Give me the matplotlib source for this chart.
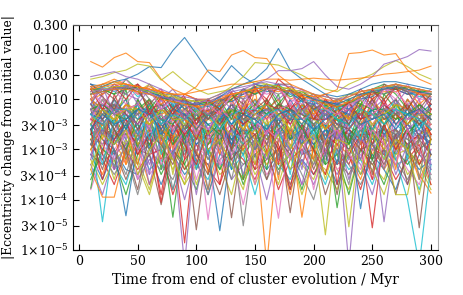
import numpy as np
import matplotlib
matplotlib.use("Agg")
import matplotlib.pyplot as plt
from matplotlib.ticker import FixedLocator, FixedFormatter, MultipleLocator, NullLocator

# time samples (Myr after end of cluster evolution)
time_myr = [10, 20, 30, 40, 50, 60, 70, 80, 90, 100, 110, 120, 130, 140, 150,
            160, 170, 180, 190, 200, 210, 220, 230, 240, 250, 260, 270, 280, 290, 300]

# log10 |delta e| (estimated), grouped by level
log_de_upper = [
    [-1.8, -1.7, -1.6, -1.7, -1.9, -1.8, -2.1, -1.9, -2.2, -2.1, -2.3, -2.0, -1.9, -2.2, -1.7, -1.8, -1.7, -2.0, -1.9, -2.3, -2.0, -2.2, -2.4, -1.9, -1.8, -2.0, -1.7, -1.8, -2.1, -1.9],
    [-2.0, -1.8, -1.9, -1.6, -1.8, -2.2, -1.9, -1.9, -2.0, -2.3, -2.1, -2.0, -2.4, -1.8, -1.9, -1.7, -2.1, -1.8, -2.0, -1.9, -2.1, -2.3, -2.0, -2.1, -1.8, -1.7, -1.9, -2.2, -1.8, -1.9],
    [-1.7, -1.9, -1.7, -1.8, -1.7, -1.9, -1.8, -2.2, -1.9, -2.0, -2.0, -2.3, -1.9, -1.9, -1.8, -2.0, -1.6, -1.8, -2.2, -2.0, -1.9, -2.1, -2.1, -1.8, -2.0, -1.8, -1.8, -1.9, -1.8, -2.2],
    [-2.2, -1.9, -1.7, -1.9, -2.0, -1.7, -2.0, -1.8, -2.1, -2.1, -2.0, -2.1, -1.8, -2.0, -1.9, -1.7, -1.8, -1.9, -1.8, -2.1, -2.3, -2.0, -2.0, -2.2, -1.8, -1.9, -1.7, -1.8, -2.0, -1.8],
    [-1.9, -1.8, -2.0, -1.7, -1.8, -1.8, -1.9, -2.0, -2.4, -2.0, -2.1, -2.0, -2.0, -1.8, -2.1, -1.8, -1.7, -1.7, -2.0, -1.9, -2.2, -2.1, -1.9, -1.9, -2.1, -1.7, -1.8, -1.8, -1.9, -1.9],
    [-1.8, -2.1, -1.8, -1.6, -1.9, -1.9, -1.8, -2.1, -2.0, -2.2, -2.2, -1.9, -2.1, -1.8, -1.8, -1.9, -1.8, -2.1, -1.8, -2.0, -2.0, -2.1, -2.2, -1.9, -1.9, -1.8, -2.0, -1.7, -2.0, -2.0],
    [-2.1, -1.7, -1.8, -1.9, -1.7, -2.0, -2.2, -1.9, -2.1, -2.0, -2.4, -2.1, -1.9, -2.0, -1.7, -1.8, -1.9, -1.8, -1.9, -2.2, -2.1, -2.0, -2.1, -2.0, -1.9, -1.8, -1.7, -1.9, -1.9, -2.1],
    [-1.85, -1.75, -1.65, -1.75, -1.85, -1.7, -1.9, -2.0, -2.0, -2.05, -2.1, -2.05, -1.95, -1.85, -1.75, -1.7, -1.75, -1.8, -1.9, -1.95, -2.05, -2.1, -2.0, -1.9, -1.85, -1.75, -1.75, -1.8, -1.85, -1.9],
    [-1.9, -1.75, -1.85, -1.7, -1.95, -1.8, -1.95, -2.1, -2.05, -2.2, -2.1, -2.15, -1.9, -1.85, -1.8, -1.75, -1.7, -1.9, -2.0, -2.05, -2.15, -2.2, -2.05, -1.95, -1.8, -1.8, -1.75, -1.85, -1.95, -1.9],
    [-1.7, -1.85, -1.75, -1.8, -1.75, -1.9, -2.0, -1.95, -2.2, -2.05, -2.15, -2.0, -2.05, -1.9, -1.75, -1.85, -1.8, -1.85, -2.05, -2.1, -2.05, -2.1, -2.2, -2.0, -1.95, -1.75, -1.8, -1.9, -1.85, -2.0],
    [-2.0, -1.9, -1.75, -1.75, -1.8, -1.75, -1.85, -2.05, -2.0, -2.15, -2.25, -2.1, -1.95, -1.95, -1.85, -1.8, -1.85, -1.75, -1.95, -2.0, -2.2, -2.0, -2.1, -1.9, -1.9, -1.85, -1.85, -1.75, -1.9, -1.95],
    [-1.8, -1.8, -1.9, -1.8, -1.75, -1.85, -1.95, -2.05, -2.1, -2.1, -2.05, -2.2, -2.0, -1.8, -1.9, -1.8, -1.75, -1.95, -1.85, -2.0, -2.1, -2.15, -2.1, -1.95, -1.85, -1.9, -1.8, -1.75, -1.85, -1.85],
    [-1.8, -2.2, -1.75, -2.0, -1.7, -2.3, -1.95, -2.3, -1.95, -2.5, -2.0, -2.2, -1.85, -2.3, -1.75, -2.1, -1.7, -2.2, -1.9, -2.4, -2.0, -2.3, -2.05, -2.4, -1.8, -2.1, -1.75, -2.2, -1.85, -2.1],
    [-2.1, -1.75, -2.3, -1.7, -2.1, -1.8, -2.2, -1.95, -2.4, -2.05, -2.3, -1.95, -2.2, -1.8, -2.2, -1.7, -2.0, -1.8, -2.3, -1.95, -2.4, -2.05, -2.3, -1.9, -2.2, -1.75, -2.1, -1.8, -2.3, -1.95],
    [-1.75, -1.95, -2.2, -1.75, -1.85, -2.1, -1.85, -2.2, -2.0, -2.15, -2.4, -2.05, -1.9, -2.1, -1.8, -1.75, -2.2, -1.8, -2.0, -2.2, -2.05, -2.15, -2.5, -1.95, -1.85, -2.0, -1.75, -1.85, -2.2, -1.9],
    [-2.0, -1.8, -1.8, -2.1, -1.8, -1.8, -2.2, -2.0, -2.1, -2.3, -2.1, -2.3, -1.9, -1.85, -2.2, -1.8, -1.8, -2.0, -2.1, -1.9, -2.2, -2.3, -2.1, -2.0, -2.2, -1.8, -1.85, -2.1, -1.9, -1.85],
]

log_de_middle = [
    [-2.2, -2.6, -2.0, -2.4, -2.1, -2.8, -2.3, -2.0, -2.5, -2.2, -3.1, -2.4, -2.1, -2.3, -2.0, -2.6, -2.2, -2.4, -2.0, -2.7, -2.3, -2.5, -2.2, -2.8, -2.1, -2.3, -2.0, -2.5, -2.2, -2.4],
    [-2.5, -2.1, -2.3, -2.0, -2.6, -2.2, -2.4, -2.7, -2.3, -2.5, -2.2, -2.4, -2.9, -2.1, -2.3, -2.2, -2.5, -2.0, -2.4, -2.3, -2.8, -2.3, -2.6, -2.2, -2.4, -2.1, -2.3, -2.2, -2.6, -2.1],
    [-2.0, -2.3, -2.5, -2.1, -2.3, -2.0, -2.9, -2.4, -2.2, -2.6, -2.4, -2.2, -2.3, -2.6, -2.1, -2.2, -2.0, -2.7, -2.2, -2.4, -2.2, -2.6, -2.3, -2.1, -2.5, -2.2, -2.4, -2.0, -2.3, -2.5],
    [-2.3, -2.0, -2.2, -2.6, -2.0, -2.4, -2.1, -2.3, -2.8, -2.3, -2.5, -2.7, -2.2, -2.4, -2.5, -2.0, -2.3, -2.2, -2.6, -2.1, -2.4, -2.3, -2.9, -2.4, -2.2, -2.5, -2.1, -2.4, -2.1, -2.3],
    [-2.6, -2.2, -2.1, -2.3, -2.5, -2.1, -2.6, -2.2, -2.4, -2.8, -2.3, -2.5, -2.2, -2.3, -2.2, -2.4, -2.1, -2.3, -2.5, -2.2, -2.6, -2.4, -2.2, -2.3, -2.6, -2.0, -2.5, -2.3, -2.2, -2.7],
    [-2.1, -2.4, -2.2, -2.2, -2.3, -2.6, -2.0, -2.5, -2.2, -2.4, -2.6, -2.3, -2.5, -2.1, -2.6, -2.3, -2.4, -2.1, -2.3, -2.5, -2.2, -2.8, -2.4, -2.6, -2.0, -2.4, -2.2, -2.6, -2.4, -2.2],
    [-2.4, -2.2, -2.6, -2.2, -2.1, -2.3, -2.4, -2.2, -2.6, -2.1, -2.4, -2.2, -2.6, -2.3, -2.4, -2.1, -2.6, -2.4, -2.1, -2.3, -2.5, -2.2, -2.5, -2.2, -2.3, -2.6, -2.0, -2.3, -2.5, -2.3],
    [-2.2, -2.5, -2.3, -2.4, -2.2, -2.3, -2.5, -2.4, -2.2, -2.7, -2.2, -2.6, -2.3, -2.2, -2.4, -2.7, -2.2, -2.5, -2.3, -2.2, -2.4, -2.2, -2.6, -2.3, -2.5, -2.2, -2.6, -2.1, -2.4, -2.2],
    [-2.3, -2.7, -2.1, -2.5, -2.3, -2.1, -2.3, -2.6, -2.4, -2.3, -2.7, -2.3, -2.2, -2.5, -2.2, -2.3, -2.5, -2.2, -2.7, -2.4, -2.3, -2.5, -2.3, -2.5, -2.3, -2.4, -2.2, -2.4, -2.3, -2.6],
    [-2.4, -2.3, -2.4, -2.1, -2.4, -2.5, -2.2, -2.3, -2.5, -2.2, -2.4, -2.5, -2.4, -2.2, -2.3, -2.5, -2.3, -2.6, -2.2, -2.3, -2.5, -2.2, -2.4, -2.2, -2.3, -2.4, -2.3, -2.5, -2.2, -2.4],
    [-2.1, -2.2, -2.5, -2.3, -2.7, -2.3, -2.5, -2.1, -2.3, -2.4, -2.3, -2.2, -2.5, -2.2, -2.2, -2.1, -2.4, -2.3, -2.2, -2.6, -2.2, -2.4, -2.3, -2.2, -2.6, -2.3, -2.2, -2.3, -2.6, -2.3],
    [-2.3, -2.4, -2.1, -2.6, -2.2, -2.2, -2.7, -2.3, -2.1, -2.3, -2.5, -2.4, -2.1, -2.5, -2.3, -2.2, -2.2, -2.4, -2.4, -2.2, -2.3, -2.6, -2.2, -2.4, -2.2, -2.2, -2.5, -2.2, -2.3, -2.1],
    [-2.0, -2.2, -2.4, -2.1, -2.2, -2.5, -2.3, -2.2, -2.4, -2.6, -2.3, -2.2, -2.4, -2.2, -2.0, -2.2, -2.3, -2.1, -2.4, -2.2, -2.6, -2.4, -2.3, -2.5, -2.1, -2.3, -2.1, -2.2, -2.4, -2.2],
    [-2.2, -2.1, -2.3, -2.4, -2.2, -2.0, -2.4, -2.5, -2.2, -2.4, -2.3, -2.6, -2.2, -2.3, -2.1, -2.3, -2.1, -2.2, -2.3, -2.5, -2.3, -2.4, -2.5, -2.1, -2.2, -2.2, -2.4, -2.3, -2.1, -2.3],
    [-2.4, -2.5, -2.2, -2.2, -2.4, -2.3, -2.2, -2.4, -2.7, -2.4, -2.2, -2.3, -2.3, -2.5, -2.3, -2.1, -2.2, -2.5, -2.1, -2.4, -2.4, -2.3, -2.2, -2.4, -2.3, -2.1, -2.3, -2.5, -2.2, -2.4],
    [-2.3, -2.1, -2.2, -2.3, -2.5, -2.2, -2.4, -2.3, -2.3, -2.2, -2.6, -2.3, -2.3, -2.2, -2.4, -2.2, -2.4, -2.3, -2.2, -2.1, -2.3, -2.5, -2.4, -2.3, -2.4, -2.2, -2.2, -2.4, -2.3, -2.2],
    [-2.1, -2.4, -2.0, -2.3, -2.6, -2.2, -2.1, -2.4, -2.3, -2.5, -2.2, -2.5, -2.1, -2.4, -2.2, -2.0, -2.5, -2.2, -2.3, -2.4, -2.2, -2.5, -2.6, -2.3, -2.0, -2.4, -2.3, -2.1, -2.5, -2.3],
    [-2.4, -2.0, -2.3, -2.2, -2.1, -2.4, -2.3, -2.6, -2.2, -2.5, -2.6, -2.2, -2.4, -2.1, -2.3, -2.4, -2.2, -2.1, -2.4, -2.3, -2.5, -2.3, -2.2, -2.6, -2.3, -2.1, -2.2, -2.4, -2.2, -2.5],
    [-2.2, -2.3, -2.1, -2.5, -2.3, -2.2, -2.5, -2.2, -2.6, -2.3, -2.4, -2.3, -2.2, -2.4, -2.4, -2.2, -2.2, -2.4, -2.2, -2.5, -2.3, -2.6, -2.3, -2.3, -2.4, -2.2, -2.3, -2.2, -2.4, -2.2],
    [-2.5, -2.2, -2.4, -2.2, -2.2, -2.5, -2.2, -2.4, -2.4, -2.2, -2.7, -2.3, -2.2, -2.6, -2.3, -2.1, -2.3, -2.6, -2.1, -2.4, -2.6, -2.2, -2.4, -2.2, -2.5, -2.3, -2.1, -2.5, -2.3, -2.3],
    [-2.3, -2.5, -2.2, -2.2, -2.4, -2.1, -2.5, -2.3, -2.4, -2.2, -2.3, -2.6, -2.3, -2.2, -2.5, -2.3, -2.2, -2.3, -2.5, -2.2, -2.2, -2.4, -2.5, -2.2, -2.3, -2.5, -2.2, -2.3, -2.4, -2.6],
    [-2.6, -2.3, -2.5, -2.4, -2.2, -2.3, -2.6, -2.2, -2.3, -2.6, -2.3, -2.2, -2.5, -2.3, -2.4, -2.6, -2.3, -2.2, -2.4, -2.6, -2.4, -2.2, -2.3, -2.5, -2.4, -2.3, -2.6, -2.3, -2.2, -2.4],
]

# lines that swing strongly between samples
log_de_swinging = [
    [-1.9, -2.8, -2.1, -3.3, -2.0, -2.6, -1.9, -3.0, -2.3, -2.1, -3.5, -2.2, -2.0, -2.7, -1.8, -3.1, -2.1, -2.4, -1.9, -3.2, -2.2, -2.6, -2.0, -2.9, -1.9, -2.5, -3.4, -2.0, -2.3, -2.7],
    [-2.7, -2.0, -2.5, -1.8, -3.0, -2.2, -3.4, -2.1, -2.6, -2.4, -2.0, -2.9, -2.2, -3.6, -2.1, -2.3, -1.9, -2.8, -2.2, -2.5, -3.3, -2.1, -2.4, -2.0, -2.7, -1.9, -2.2, -3.0, -2.1, -2.5],
    [-2.2, -3.1, -1.9, -2.4, -2.7, -2.0, -2.5, -2.2, -3.2, -2.0, -2.4, -2.1, -3.0, -2.3, -2.6, -2.0, -3.3, -2.2, -2.0, -2.6, -2.1, -3.7, -2.3, -2.1, -2.9, -2.2, -2.0, -2.6, -3.1, -2.2],
    [-3.2, -2.3, -2.0, -2.8, -2.2, -3.5, -2.1, -2.4, -2.0, -2.8, -2.2, -2.6, -2.1, -2.2, -3.0, -2.2, -2.0, -2.5, -3.4, -2.1, -2.4, -2.2, -2.7, -3.2, -2.2, -2.0, -2.8, -2.3, -2.0, -3.3],
    [-2.0, -2.4, -3.4, -2.2, -2.5, -2.1, -2.8, -2.0, -2.3, -3.1, -2.1, -2.3, -3.0, -2.0, -2.4, -2.9, -2.2, -2.1, -2.7, -2.0, -3.1, -2.3, -2.1, -2.4, -3.5, -2.1, -2.4, -2.1, -2.8, -2.0],
    [-2.4, -1.9, -2.7, -2.1, -3.6, -2.3, -2.0, -2.7, -2.4, -2.1, -2.6, -3.3, -2.3, -2.0, -2.6, -2.1, -2.7, -2.0, -3.1, -2.3, -2.0, -2.8, -2.1, -2.6, -2.0, -3.4, -2.2, -2.4, -2.0, -2.6],
    [-2.9, -2.2, -2.3, -3.1, -2.0, -2.4, -3.0, -2.3, -2.1, -2.6, -3.8, -2.3, -2.2, -2.5, -2.0, -2.4, -3.2, -2.1, -2.4, -2.2, -2.6, -2.0, -3.2, -2.2, -2.4, -2.2, -2.9, -2.1, -3.6, -2.3],
    [-2.1, -2.6, -2.2, -2.0, -2.9, -2.6, -2.2, -3.5, -2.2, -2.4, -2.0, -2.5, -2.7, -2.1, -3.3, -2.4, -2.1, -3.0, -2.2, -2.4, -2.1, -2.7, -2.4, -2.0, -2.6, -3.0, -2.1, -2.3, -2.5, -2.1],
    [-2.5, -3.3, -2.4, -2.1, -2.3, -2.0, -3.1, -2.5, -2.0, -3.4, -2.3, -2.0, -2.6, -2.9, -2.2, -2.1, -2.5, -3.5, -2.1, -2.8, -2.3, -2.1, -2.5, -2.8, -2.1, -2.4, -2.1, -3.2, -2.2, -2.4],
    [-2.3, -2.1, -2.9, -2.5, -2.1, -3.0, -2.2, -2.1, -2.9, -2.2, -2.7, -2.1, -3.4, -2.4, -2.2, -2.7, -2.1, -2.3, -2.9, -2.2, -2.5, -3.3, -2.0, -2.6, -2.2, -2.7, -2.4, -2.0, -2.4, -3.1],
    [-3.0, -2.5, -2.2, -2.6, -3.3, -2.1, -2.6, -2.8, -2.1, -2.6, -2.2, -3.1, -2.0, -2.4, -2.8, -2.3, -3.6, -2.2, -2.5, -2.1, -2.9, -2.2, -2.6, -2.3, -2.0, -2.3, -3.0, -2.4, -2.2, -2.8],
    [-2.0, -2.2, -2.6, -3.0, -2.4, -2.2, -2.3, -2.9, -2.6, -2.2, -2.9, -2.4, -2.3, -2.8, -2.5, -3.4, -2.3, -2.2, -2.6, -3.0, -2.1, -2.4, -2.9, -2.1, -3.2, -2.5, -2.3, -2.7, -2.4, -2.2],
    [-2.6, -3.6, -2.8, -2.4, -3.1, -2.7, -3.9, -2.5, -2.9, -3.3, -2.6, -3.7, -2.5, -2.8, -3.4, -2.6, -2.9, -3.8, -2.5, -3.0, -3.5, -2.6, -3.1, -2.7, -3.6, -2.5, -3.0, -2.6, -3.3, -2.8],
    [-3.1, -2.6, -3.4, -2.9, -2.6, -3.7, -2.8, -3.1, -2.6, -3.9, -2.7, -3.0, -2.6, -3.5, -2.8, -3.2, -2.6, -3.0, -3.7, -2.7, -3.1, -2.6, -3.6, -2.8, -3.0, -2.7, -3.5, -2.9, -2.6, -3.4],
    [-2.8, -3.4, -2.6, -3.0, -3.8, -2.7, -2.9, -3.3, -2.7, -3.1, -3.5, -2.6, -3.2, -2.9, -2.7, -3.6, -2.8, -3.1, -2.7, -3.4, -2.8, -3.9, -2.7, -3.0, -2.9, -3.3, -2.7, -3.7, -2.8, -3.1],
    [-2.4, -2.9, -3.2, -2.6, -3.0, -2.5, -3.3, -3.0, -2.6, -3.6, -2.8, -2.5, -3.1, -2.7, -3.7, -2.6, -2.8, -3.2, -2.6, -3.8, -2.8, -2.6, -3.1, -3.4, -2.6, -2.9, -3.3, -2.6, -3.0, -3.5],
    [-2.9, -2.4, -3.0, -3.5, -2.7, -3.1, -2.6, -3.8, -2.9, -2.7, -3.2, -2.8, -3.6, -2.6, -3.0, -2.7, -3.5, -2.6, -2.9, -3.3, -2.7, -3.0, -3.7, -2.6, -2.9, -3.4, -2.6, -3.1, -2.8, -3.6],
    [-3.4, -2.7, -2.9, -2.6, -3.5, -3.0, -2.7, -3.2, -3.7, -2.7, -3.0, -2.8, -3.3, -3.8, -2.8, -3.1, -2.7, -3.4, -2.9, -2.7, -3.6, -2.8, -2.9, -3.5, -2.7, -3.2, -2.8, -3.0, -3.9, -2.8],
]

log_de_lower = [
    [-2.6, -3.0, -2.5, -2.8, -3.3, -2.6, -2.7, -3.1, -2.5, -2.9, -2.6, -3.4, -2.7, -2.5, -2.9, -2.6, -3.0, -2.6, -2.8, -3.2, -2.6, -2.7, -3.0, -2.6, -2.9, -2.5, -3.1, -2.7, -2.6, -2.9],
    [-2.8, -2.5, -2.9, -2.6, -2.7, -3.0, -2.5, -2.8, -2.9, -3.2, -2.7, -2.6, -2.9, -3.0, -2.6, -2.8, -2.5, -2.9, -3.3, -2.7, -2.8, -3.0, -2.6, -2.8, -3.1, -2.7, -2.6, -3.0, -2.7, -2.6],
    [-3.0, -2.7, -2.6, -3.2, -2.7, -2.5, -2.9, -2.7, -3.3, -2.7, -2.8, -2.6, -3.0, -2.7, -2.6, -3.1, -2.7, -2.6, -2.9, -2.6, -3.1, -2.7, -2.8, -3.2, -2.6, -2.8, -2.9, -2.6, -3.0, -2.8],
    [-2.5, -2.8, -3.1, -2.6, -2.9, -2.8, -3.2, -2.6, -2.7, -2.6, -3.0, -2.8, -2.6, -2.9, -3.3, -2.6, -2.8, -3.0, -2.6, -2.8, -2.7, -2.9, -3.3, -2.7, -2.7, -3.0, -2.7, -2.9, -2.7, -3.1],
    [-2.7, -2.6, -2.8, -3.0, -2.6, -3.3, -2.8, -2.6, -3.0, -2.8, -2.7, -3.1, -2.8, -2.6, -2.7, -3.0, -2.6, -3.2, -2.7, -2.9, -2.6, -3.1, -2.7, -2.9, -2.6, -2.9, -3.2, -2.7, -2.8, -2.6],
    [-2.9, -3.2, -2.7, -2.7, -3.1, -2.7, -2.6, -2.9, -2.7, -3.4, -2.9, -2.7, -2.8, -3.1, -2.8, -2.7, -3.1, -2.7, -2.9, -2.6, -2.9, -2.8, -3.0, -2.6, -3.2, -2.7, -2.8, -3.0, -2.8, -2.7],
    [-2.8, -2.6, -3.0, -2.7, -2.9, -2.6, -2.8, -3.2, -2.7, -2.9, -3.1, -2.7, -2.9, -2.7, -3.1, -2.8, -2.7, -2.9, -3.0, -2.7, -3.2, -2.9, -2.7, -3.0, -2.8, -2.7, -2.9, -3.1, -2.7, -2.9],
    [-2.7, -2.9, -2.7, -3.1, -2.8, -2.9, -2.7, -2.8, -3.1, -2.6, -3.2, -2.8, -2.7, -3.0, -2.7, -2.9, -3.1, -2.8, -2.7, -3.0, -2.8, -3.1, -2.8, -2.7, -2.9, -3.1, -2.7, -2.8, -3.0, -2.8],
    [-3.3, -2.9, -3.6, -2.8, -3.2, -3.8, -2.9, -3.4, -2.8, -3.7, -3.0, -3.3, -3.9, -2.9, -3.5, -3.1, -3.7, -2.9, -3.3, -3.6, -2.9, -3.4, -3.8, -3.0, -3.3, -3.6, -2.9, -3.5, -3.2, -3.7],
    [-3.5, -3.1, -3.3, -3.7, -2.9, -3.4, -3.2, -3.8, -3.0, -3.3, -3.6, -2.9, -3.4, -3.1, -3.9, -3.0, -3.3, -3.6, -3.0, -3.2, -3.7, -3.0, -3.4, -3.2, -3.7, -3.0, -3.3, -3.2, -3.8, -3.1],
    [-3.1, -3.6, -3.0, -3.4, -3.5, -3.1, -3.7, -3.1, -3.5, -3.2, -3.9, -3.1, -3.2, -3.6, -3.1, -3.4, -3.1, -3.8, -3.2, -3.5, -3.1, -3.7, -3.1, -3.5, -3.1, -3.4, -3.8, -3.1, -3.4, -3.2],
    [-3.0, -3.5, -2.8, -3.3, -2.9, -3.7, -3.1, -2.8, -3.4, -3.0, -3.8, -2.9, -3.2, -3.6, -2.9, -3.3, -3.0, -3.9, -2.9, -3.2, -3.5, -2.9, -3.1, -3.6, -2.9, -3.4, -3.0, -2.9, -3.6, -3.1],
    [-3.6, -3.0, -3.2, -3.9, -3.1, -2.9, -3.5, -3.0, -3.3, -3.8, -3.0, -3.4, -3.0, -3.7, -3.1, -2.9, -3.4, -3.1, -3.8, -3.0, -3.3, -3.1, -3.9, -3.0, -3.2, -3.7, -3.0, -3.3, -3.0, -3.5],
    [-2.9, -3.2, -3.7, -3.0, -3.4, -3.1, -3.0, -3.9, -3.2, -2.9, -3.4, -3.7, -3.0, -3.2, -3.6, -3.0, -3.8, -3.2, -3.0, -3.5, -3.0, -3.3, -3.1, -3.8, -3.0, -3.1, -3.6, -3.2, -2.9, -3.7],
    [-3.3, -3.9, -3.1, -2.9, -3.6, -3.2, -3.4, -3.1, -4.0, -3.1, -3.3, -3.0, -3.6, -3.3, -3.1, -4.0, -3.0, -3.4, -3.2, -3.7, -3.1, -3.5, -3.0, -3.3, -3.9, -3.0, -3.3, -3.7, -3.1, -3.3],
    [-3.1, -3.3, -3.0, -3.6, -3.0, -3.1, -4.1, -3.0, -3.4, -3.1, -3.3, -3.9, -3.1, -3.0, -3.4, -3.2, -3.0, -3.7, -3.1, -3.0, -3.9, -3.2, -3.5, -3.0, -3.3, -3.0, -3.9, -3.0, -3.3, -3.0],
    [-3.8, -3.1, -3.4, -3.2, -3.0, -3.5, -3.2, -3.1, -3.6, -3.0, -3.1, -3.3, -3.1, -4.1, -3.0, -3.5, -3.2, -3.0, -3.7, -3.3, -3.0, -3.4, -3.2, -3.1, -3.6, -3.2, -3.0, -3.4, -3.7, -3.0],
    [-2.9, -3.1, -3.5, -3.1, -3.9, -3.0, -3.3, -3.6, -3.0, -3.2, -3.9, -3.2, -3.0, -3.3, -3.1, -3.6, -3.1, -3.0, -3.5, -4.0, -3.1, -3.0, -3.3, -3.7, -3.2, -3.0, -3.2, -3.6, -3.1, -3.4],
    [-3.2, -3.7, -3.2, -3.0, -3.3, -3.9, -3.0, -3.2, -3.7, -3.3, -3.0, -3.5, -3.3, -3.0, -3.7, -3.1, -3.3, -3.1, -3.9, -3.2, -3.4, -3.8, -3.0, -3.2, -3.4, -3.9, -3.1, -3.0, -3.3, -3.8],
]

# lines with deep dips (sign changes of delta e)
log_de_dips = [
    [-2.6, -4.44, -2.7, -2.3, -2.5, -2.9, -2.4, -2.6, -3.0, -2.5, -2.7, -2.4, -2.8, -3.1, -2.5, -2.6, -2.4, -2.7, -2.5, -3.0, -2.6, -2.4, -2.8, -2.5, -2.6, -3.2, -2.5, -2.7, -2.4, -2.8],
    [-2.5, -2.8, -3.0, -4.32, -2.8, -2.4, -2.6, -2.9, -2.5, -2.7, -3.0, -4.62, -2.9, -2.5, -2.6, -2.8, -2.4, -2.7, -3.1, -2.6, -2.5, -2.8, -2.6, -2.9, -2.5, -2.7, -3.0, -2.6, -2.5, -2.8],
    [-3.4, -3.95, -3.95, -3.0, -2.7, -2.9, -2.6, -2.8, -2.5, -2.7, -2.9, -2.6, -2.8, -3.0, -2.7, -5.3, -2.8, -2.6, -4.35, -2.9, -2.7, -2.6, -2.8, -3.0, -2.7, -2.9, -2.6, -3.0, -3.5, -3.87],
    [-3.77, -2.6, -2.4, -2.7, -2.5, -2.9, -2.6, -4.35, -2.6, -2.4, -2.7, -2.5, -2.8, -2.6, -3.0, -2.5, -2.7, -2.4, -2.8, -2.6, -2.5, -4.16, -2.7, -2.5, -2.9, -2.6, -2.7, -2.5, -2.8, -2.6],
    [-2.7, -2.5, -2.8, -2.6, -2.9, -2.6, -4.05, -2.7, -4.86, -2.6, -2.8, -2.5, -2.9, -2.6, -2.7, -2.5, -3.0, -2.6, -2.8, -2.5, -2.7, -2.9, -2.6, -2.8, -4.56, -2.7, -2.6, -2.9, -2.7, -2.5],
    [-2.5, -2.7, -2.4, -2.9, -2.6, -2.8, -2.5, -2.9, -5.3, -2.7, -2.5, -2.8, -2.6, -2.7, -2.5, -2.9, -2.6, -2.8, -2.5, -2.7, -3.0, -2.6, -5.3, -2.7, -2.6, -4.44, -2.7, -2.5, -2.8, -2.6],
    [-2.6, -2.4, -2.7, -2.5, -2.8, -2.6, -2.9, -2.5, -2.7, -4.6, -2.8, -2.6, -4.36, -2.7, -2.5, -2.8, -2.6, -4.26, -2.7, -2.5, -2.9, -2.6, -2.7, -2.5, -2.8, -2.6, -2.9, -2.6, -4.56, -2.7],
    [-2.4, -2.6, -2.8, -2.5, -2.7, -2.4, -2.9, -2.6, -2.8, -2.5, -4.4, -2.7, -2.5, -2.8, -2.6, -2.9, -4.37, -2.6, -2.8, -2.5, -2.7, -2.6, -2.9, -2.5, -2.7, -2.6, -2.8, -2.5, -2.7, -2.9],
    [-2.7, -2.9, -2.5, -2.7, -2.6, -3.0, -2.7, -2.5, -2.8, -2.6, -2.7, -2.9, -2.6, -4.52, -2.8, -2.6, -2.5, -2.8, -2.6, -2.9, -2.7, -2.5, -2.8, -2.6, -2.7, -2.9, -2.6, -2.8, -2.5, -2.7],
    [-2.8, -2.5, -2.7, -2.9, -2.6, -2.8, -2.5, -2.7, -3.0, -2.6, -2.8, -2.5, -2.7, -2.9, -2.6, -2.8, -2.5, -2.7, -2.6, -2.8, -4.70, -2.6, -4.54, -2.7, -2.5, -2.8, -3.9, -3.9, -2.7, -2.6],
    [-2.5, -2.7, -2.9, -2.6, -2.8, -2.5, -2.7, -3.1, -2.6, -2.8, -2.5, -2.7, -2.9, -2.6, -2.8, -2.5, -2.7, -3.0, -2.6, -2.8, -2.5, -2.7, -2.9, -2.6, -2.8, -2.6, -3.2, -4.0, -5.3, -3.3],
    [-2.9, -2.6, -2.8, -2.5, -3.0, -2.7, -2.5, -2.8, -2.6, -2.9, -2.7, -2.5, -2.8, -2.6, -3.0, -2.7, -2.5, -2.8, -2.6, -2.9, -2.6, -2.8, -2.5, -4.18, -2.7, -2.6, -2.8, -2.5, -2.7, -2.9],
]

# the few planets that stand out above the band
log_de_outliers = [
    [-1.25, -1.36, -1.17, -1.08, -1.25, -1.27, -1.6, -1.8, -1.9, -2.0, -2.05, -1.95, -1.9, -1.85, -1.8, -1.75, -1.8, -1.85, -1.95, -2.0, -2.1, -2.15, -2.05, -1.95, -1.85, -1.8, -1.75, -1.8, -1.9, -1.9],
    [-1.7, -1.75, -1.65, -1.6, -1.5, -1.35, -1.37, -1.03, -0.77, -1.1, -1.45, -1.65, -1.33, -1.55, -1.7, -1.75, -1.8, -1.85, -1.9, -2.0, -2.05, -2.1, -2.0, -1.9, -1.85, -1.8, -1.75, -1.8, -1.85, -1.9],
    [-1.6, -1.55, -1.47, -1.42, -1.30, -1.34, -1.62, -1.45, -1.65, -1.8, -1.9, -1.85, -1.8, -1.7, -1.65, -1.7, -1.75, -1.8, -1.85, -1.9, -1.95, -2.0, -1.9, -1.85, -1.8, -1.75, -1.7, -1.75, -1.8, -1.85],
    [-1.55, -1.5, -1.45, -1.55, -1.6, -1.7, -1.8, -1.9, -1.95, -2.0, -2.05, -1.95, -1.85, -1.8, -1.7, -1.65, -1.7, -1.75, -1.8, -1.9, -1.95, -2.0, -1.95, -1.85, -1.8, -1.75, -1.7, -1.75, -1.8, -1.85],
    [-1.8, -1.75, -1.7, -1.7, -1.75, -1.8, -1.85, -1.9, -1.9, -1.75, -1.42, -1.45, -1.12, -1.03, -1.17, -1.19, -1.52, -1.7, -1.8, -1.9, -2.0, -2.05, -1.95, -1.85, -1.8, -1.75, -1.7, -1.75, -1.8, -1.85],
    [-1.9, -1.85, -1.8, -1.75, -1.8, -1.85, -1.95, -2.0, -2.05, -2.1, -2.1, -1.95, -1.8, -1.7, -1.6, -1.39, -0.99, -1.42, -1.6, -1.75, -1.9, -1.95, -1.9, -1.8, -1.7, -1.65, -1.65, -1.7, -1.75, -1.8],
    [-1.85, -1.8, -1.75, -1.75, -1.8, -1.85, -1.9, -1.95, -2.0, -2.05, -2.0, -1.9, -1.75, -1.55, -1.27, -1.29, -1.32, -1.42, -1.52, -1.65, -1.8, -1.85, -1.7, -1.6, -1.5, -1.35, -1.23, -1.35, -1.5, -1.6],
    [-1.85, -1.8, -1.8, -1.75, -1.8, -1.9, -1.95, -2.0, -2.05, -2.1, -2.0, -1.9, -1.8, -1.75, -1.7, -1.6, -1.43, -1.43, -1.39, -1.25, -1.52, -1.75, -1.8, -1.7, -1.55, -1.3, -1.23, -1.15, -1.01, -1.04],
    [-1.9, -1.85, -1.8, -1.8, -1.85, -1.9, -2.0, -2.05, -2.1, -2.15, -2.1, -2.0, -1.9, -1.85, -1.8, -1.75, -1.8, -1.85, -1.9, -1.95, -1.9, -1.81, -1.09, -1.07, -1.02, -1.12, -1.09, -1.42, -1.6, -1.7],
    [-1.75, -1.7, -1.65, -1.7, -1.75, -1.8, -1.85, -1.9, -1.9, -1.85, -1.8, -1.75, -1.7, -1.7, -1.65, -1.6, -1.6, -1.62, -1.6, -1.58, -1.6, -1.62, -1.6, -1.58, -1.55, -1.5, -1.48, -1.45, -1.42, -1.34],
]
outlier_colors = ["tab:orange", "tab:blue", "tab:olive", "tab:purple", "tab:orange",
                  "tab:blue", "tab:olive", "tab:purple", "tab:orange", "tab:orange"]

ytick_vals = [0.3, 0.1, 0.03, 0.01, 3e-3, 1e-3, 3e-4, 1e-4, 3e-5, 1e-5]
ytick_labels = ["0.300", "0.100", "0.030", "0.010",
                r"$3{\times}10^{-3}$", r"$1{\times}10^{-3}$",
                r"$3{\times}10^{-4}$", r"$1{\times}10^{-4}$",
                r"$3{\times}10^{-5}$", r"$1{\times}10^{-5}$"]

plt.rcParams["font.family"] = ["DejaVu Serif"]
plt.rcParams["mathtext.fontset"] = "dejavuserif"

fig = plt.figure(figsize=(4.63, 2.95), dpi=100)
ax = fig.add_axes([0.158, 0.153, 0.788, 0.762])

colors = plt.rcParams["axes.prop_cycle"].by_key()["color"]
t = np.array(time_myr)
k = 0
for group in (log_de_lower, log_de_dips, log_de_swinging, log_de_middle, log_de_upper):
    for row in group:
        ax.plot(t, 10.0 ** np.array(row), lw=0.85, alpha=0.8, color=colors[k % len(colors)])
        k += 1
for row, c in zip(log_de_outliers, outlier_colors):
    ax.plot(t, 10.0 ** np.array(row), lw=0.8, alpha=0.8, color=c)

ax.set_yscale("log")
ax.set_ylim(1e-5, 0.3)
ax.set_xlim(-5, 306)
ax.yaxis.set_major_locator(FixedLocator(ytick_vals))
ax.yaxis.set_major_formatter(FixedFormatter(ytick_labels))
ax.yaxis.set_minor_locator(NullLocator())
ax.xaxis.set_major_locator(MultipleLocator(50))
ax.xaxis.set_minor_locator(MultipleLocator(10))

ax.tick_params(axis="both", which="major", direction="in", length=4, width=0.8, labelsize=9)
ax.tick_params(axis="x", which="major", top=True)
ax.tick_params(axis="x", which="minor", direction="in", length=2.5, width=0.7, bottom=False, top=True)
ax.tick_params(axis="y", which="both", right=False)

ax.spines["top"].set_color("#555555")
ax.spines["right"].set_color("#aaaaaa")

ax.set_xlabel("Time from end of cluster evolution / Myr", fontsize=10)
ax.set_ylabel("|Eccentricity change from initial value|", fontsize=8.8, labelpad=3)

fig.savefig("out.png", dpi=100)
